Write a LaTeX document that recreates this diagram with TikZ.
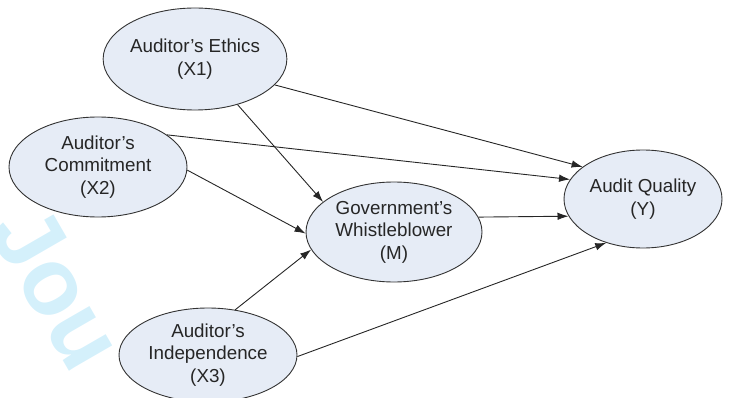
\documentclass[tikz,border=0pt]{standalone}
\usepackage{fontspec}
\setmainfont{Liberation Sans}
\usetikzlibrary{shapes.geometric,arrows.meta}
\definecolor{efill}{HTML}{E6ECF6}
\definecolor{wm}{HTML}{D4F0FB}
\begin{document}
\begin{tikzpicture}[x=1pt,y=-1pt,
  var/.style={ellipse, draw=black!80, line width=0.9pt, fill=efill, inner sep=0pt,
    align=center, font=\fontsize{18.8}{22.5}\selectfont, text=black!85},
  link/.style={draw=black!85, line width=0.9pt, -{Latex[length=11pt,width=7.5pt]}},
  wmtext/.style={rotate=-60, text=wm, font=\fontsize{95}{95}\selectfont\bfseries}]
\useasboundingbox (0,0) rectangle (730,398);
\node[wmtext] (wmk) at (58,288) {Jou};
\node[var, minimum width=176pt, minimum height=102pt] (x1) at (195,59) {Auditor’s Ethics\\(X1)};
\node[var, minimum width=178pt, minimum height=100pt] (x2) at (98,167) {Auditor’s\\Commitment\\(X2)};
\node[var, minimum width=176pt, minimum height=100pt] (m) at (394,232) {Government’s\\Whistleblower\\(M)};
\node[var, minimum width=158pt, minimum height=98pt] (y) at (643,199) {Audit Quality\\(Y)};
\node[var, minimum width=178pt, minimum height=94pt] (x3) at (208,355) {Auditor’s\\Independence\\(X3)};
\draw[link] (x1.-18) -- (y.152.7);
\draw[link] (x1.-47) -- (m.157);
\draw[link] (x2.25.5) -- (y.165.8);
\draw[link] (x2.-2) -- (m.181);
\draw[link] (m.10) -- (y.193.7);
\draw[link] (x3.59.6) -- (m.192);
\draw[link] (x3.-1) -- (y.230.7);
\end{tikzpicture}
\end{document}
